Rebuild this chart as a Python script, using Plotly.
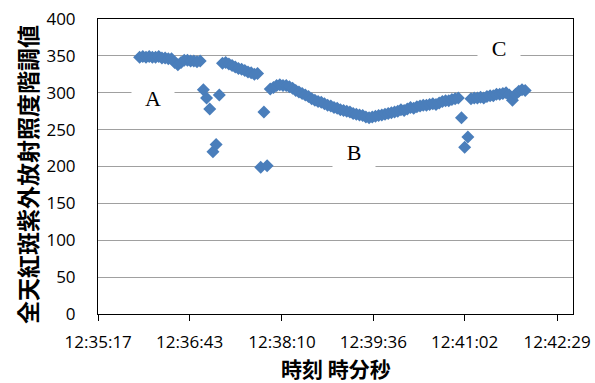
import plotly.graph_objects as go

# ---- data ----
times = [
    "12:35:56", "12:35:59", "12:36:02", "12:36:05", "12:36:08", "12:36:11", "12:36:14", "12:36:17",
    "12:36:20", "12:36:23", "12:36:26", "12:36:29", "12:36:32", "12:36:35", "12:36:38", "12:36:41",
    "12:36:44", "12:36:47", "12:36:50", "12:36:53", "12:36:56", "12:36:59", "12:37:02", "12:37:05",
    "12:37:08", "12:37:11", "12:37:14", "12:37:17", "12:37:20", "12:37:23", "12:37:26", "12:37:29",
    "12:37:32", "12:37:35", "12:37:38", "12:37:41", "12:37:44", "12:37:47", "12:37:50", "12:37:53",
    "12:37:56", "12:37:59", "12:38:02", "12:38:05", "12:38:08", "12:38:11", "12:38:14", "12:38:17",
    "12:38:20", "12:38:23", "12:38:26", "12:38:29", "12:38:32", "12:38:35", "12:38:38", "12:38:41",
    "12:38:44", "12:38:47", "12:38:50", "12:38:53", "12:38:56", "12:38:59", "12:39:02", "12:39:05",
    "12:39:08", "12:39:11", "12:39:14", "12:39:17", "12:39:20", "12:39:23", "12:39:26", "12:39:29",
    "12:39:32", "12:39:35", "12:39:38", "12:39:41", "12:39:44", "12:39:47", "12:39:50", "12:39:53",
    "12:39:56", "12:39:59", "12:40:02", "12:40:05", "12:40:08", "12:40:11", "12:40:14", "12:40:17",
    "12:40:20", "12:40:23", "12:40:26", "12:40:29", "12:40:32", "12:40:35", "12:40:38", "12:40:41",
    "12:40:44", "12:40:47", "12:40:50", "12:40:53", "12:40:56", "12:40:59", "12:41:02", "12:41:05",
    "12:41:08", "12:41:11", "12:41:14", "12:41:17", "12:41:20", "12:41:23", "12:41:26", "12:41:29",
    "12:41:32", "12:41:35", "12:41:38", "12:41:41", "12:41:44", "12:41:47", "12:41:50", "12:41:53",
    "12:41:56", "12:41:59",
]

values = [
    348, 349, 348, 349, 348, 348, 349, 347, 347, 346, 346, 341, 338, 341, 344, 344,
    343, 343, 342, 343, 304, 293, 278, 220, 230, 297, 340, 341, 339, 337, 335, 333,
    332, 330, 328, 327, 325, 326, 199, 274, 201, 305, 307, 310, 311, 310, 310, 308,
    306, 303, 301, 299, 297, 295, 292, 290, 288, 287, 285, 283, 282, 280, 279, 277,
    276, 275, 274, 272, 271, 270, 269, 267, 266, 267, 268, 269, 270, 271, 272, 273,
    274, 275, 277, 276, 278, 280, 279, 281, 282, 283, 283, 284, 285, 284, 286, 288,
    289, 289, 291, 292, 293, 266, 226, 240, 292, 293, 293, 294, 293, 295, 296, 296,
    298, 298, 299, 300, 297, 290, 298, 302, 304, 303,
]

tick_labels = ["12:35:17", "12:36:43", "12:38:10", "12:39:36", "12:41:02", "12:42:29"]

labels_text = ["A", "B", "C"]
labels_time = ["12:36:09", "12:39:18", "12:41:34"]
labels_value = [293, 219, 361]

y_title = "全天紅斑紫外放射照度階調値"
x_title = "時刻 時分秒"


def to_sec(s):
    h, m, sec = (int(p) for p in s.split(":"))
    return h * 3600 + m * 60 + sec


x_sec = [to_sec(t) for t in times]
tick_vals = [to_sec(t) for t in tick_labels]

fig = go.Figure()
fig.add_trace(go.Scatter(
    x=x_sec, y=values, mode="markers",
    marker=dict(symbol="diamond", size=10, color="#4A7EBB", line=dict(width=0)),
    hoverinfo="x+y", showlegend=False,
))

for txt, t, v in zip(labels_text, labels_time, labels_value):
    fig.add_annotation(
        x=to_sec(t), y=v, xref="x", yref="y", text=txt, showarrow=False,
        font=dict(family="Liberation Serif, Times New Roman, serif", size=22, color="black"),
        bgcolor="white", width=40, height=32, xanchor="center", yanchor="middle",
    )

tick_font = dict(family="Open Sans, Noto Sans, sans-serif", size=17, color="black")

fig.add_annotation(
    text="<b>" + y_title + "</b>", xref="paper", yref="paper", x=-0.151, y=0.4725,
    textangle=-90, showarrow=False,
    font=dict(family="Noto Sans CJK JP, sans-serif", size=23, color="black"),
    xanchor="center", yanchor="middle",
)
fig.add_annotation(
    text="<b>" + x_title + "</b>", xref="paper", yref="paper", x=0.5, y=-0.183,
    showarrow=False, borderpad=0,
    font=dict(family="Noto Sans CJK JP, sans-serif", size=21, color="black"),
    xanchor="center", yanchor="middle",
)

fig.update_xaxes(
    range=[45316.8, 45764.0], tickvals=tick_vals, ticktext=tick_labels,
    showgrid=False, zeroline=False, showline=True, linecolor="black", linewidth=1,
    mirror=True, ticks="outside", ticklen=6, tickcolor="black", tickwidth=1,
    tickfont=tick_font, automargin=False, ticklabelstandoff=7,
)
fig.update_yaxes(
    range=[0, 400], dtick=50, tick0=0,
    showgrid=True, gridcolor="#a0a0a0", gridwidth=1, zeroline=False,
    showline=True, linecolor="black", linewidth=1, mirror=True,
    ticks="", tickfont=tick_font, ticklabelstandoff=18, automargin=False,
)

fig.update_layout(
    width=595, height=383,
    margin=dict(l=98, r=22, t=19, b=69, autoexpand=False),
    paper_bgcolor="white", plot_bgcolor="white",
)

fig.write_html(
    "out.html",
    config={"displayModeBar": False},
    post_script="document.body.style.margin='0';document.body.style.padding='0';",
)
